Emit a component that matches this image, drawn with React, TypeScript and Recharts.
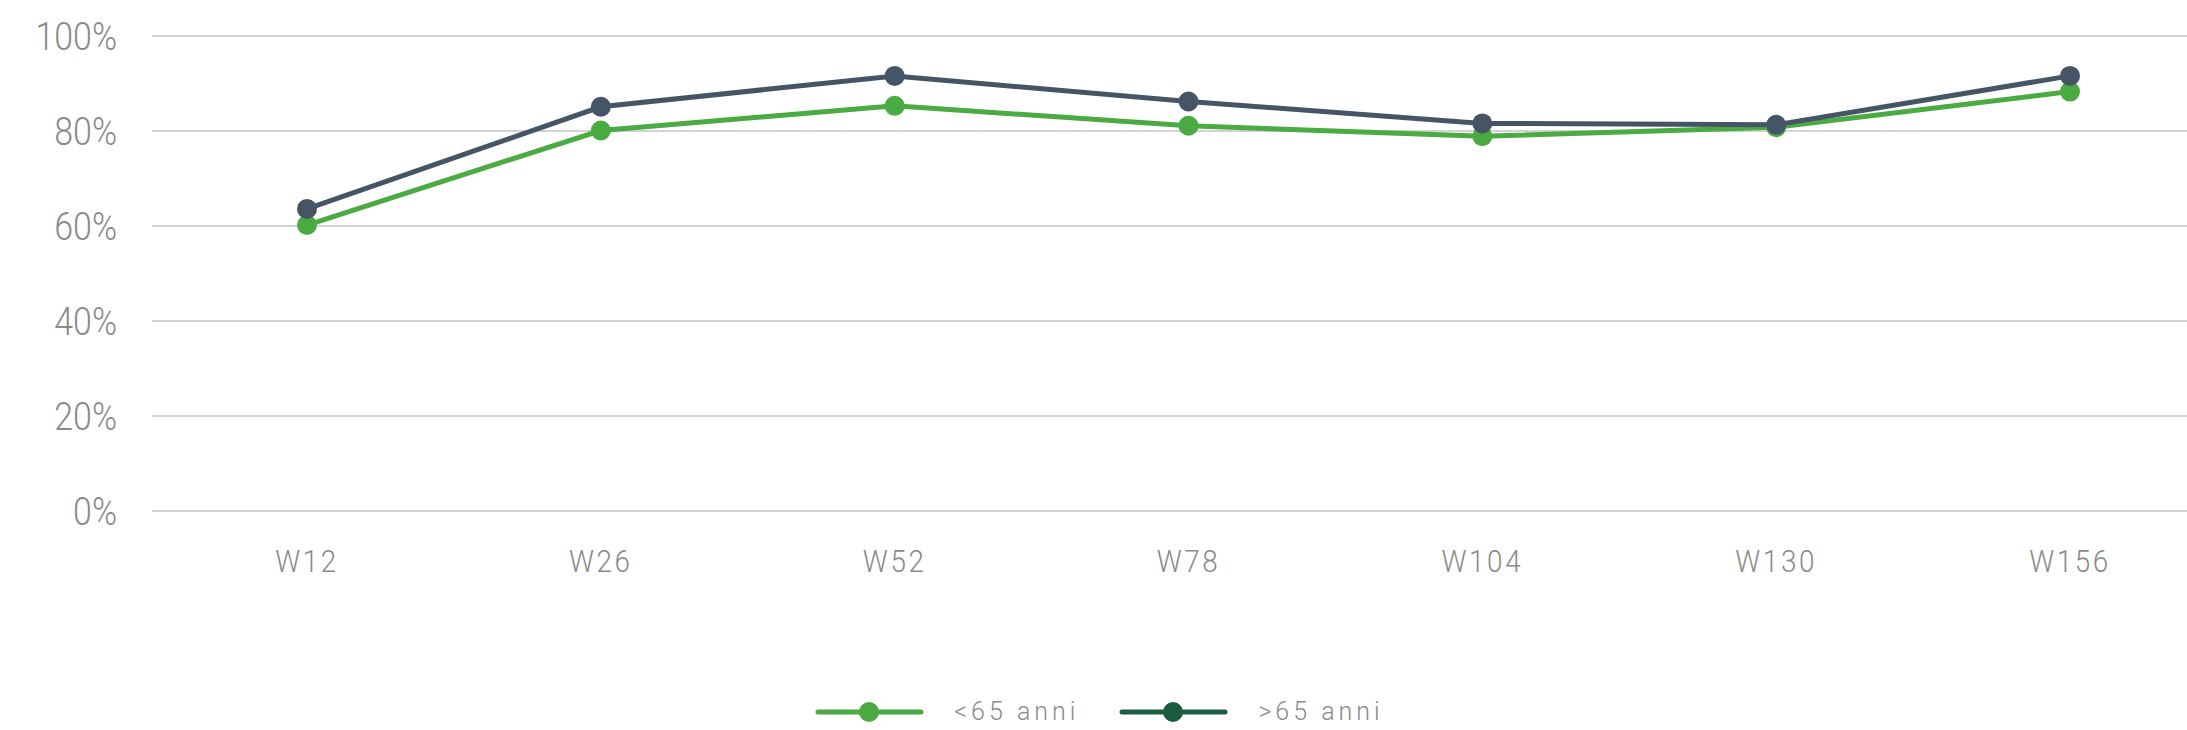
import { LineChart, Line, XAxis, YAxis, CartesianGrid, Legend } from 'recharts';

const weeks = ['W12', 'W26', 'W52', 'W78', 'W104', 'W130', 'W156'];
const under65 = [60.2, 80.1, 85.3, 81.1, 78.9, 80.8, 88.3];
const over65 = [63.6, 85.1, 91.6, 86.2, 81.6, 81.3, 91.6];
const yTicks = [0, 20, 40, 60, 80, 100];

const series = [
  { key: 'under65', name: '<65 anni', color: '#4aab42', legendColor: '#4aab42' },
  { key: 'over65', name: '>65 anni', color: '#465566', legendColor: '#1c5c3e' },
];

const data = weeks.map((w, i) => ({ week: w, under65: under65[i], over65: over65[i] }));

const FONT = "Roboto, 'Liberation Sans', sans-serif";
const TEXT = '#8a8a8a';
const SQUEEZE = 0.87;

// narrow light text, the original uses a condensed face
function YTick({ x, y, payload }: any) {
  return (
    <text
      transform={`translate(${x},${y}) scale(${SQUEEZE},1)`}
      textAnchor="end"
      dy="0.36em"
      fill={TEXT}
      fontSize={39}
      fontWeight={300}
      fontFamily={FONT}
    >
      {payload.value}%
    </text>
  );
}

function XTick({ x, y, payload }: any) {
  return (
    <text
      transform={`translate(${x},${y}) scale(${SQUEEZE},1)`}
      textAnchor="middle"
      dy="0.71em"
      fill={TEXT}
      fontSize={32}
      fontWeight={300}
      fontFamily={FONT}
      letterSpacing={3}
    >
      {payload.value}
    </text>
  );
}

function LegendContent() {
  return (
    <div style={{ display: 'flex', justifyContent: 'center', alignItems: 'center', fontFamily: FONT, paddingLeft: 12 }}>
      {series.map((s, i) => (
        <div key={s.key} style={{ display: 'flex', alignItems: 'center', marginLeft: i ? 40 : 0 }}>
          <svg width={109} height={24}>
            <line x1={3} y1={12} x2={106} y2={12} stroke={s.legendColor} strokeWidth={5} strokeLinecap="round" />
            <circle cx={54} cy={12} r={10} fill={s.legendColor} />
          </svg>
          <span style={{ marginLeft: 30, fontSize: 25, fontWeight: 300, letterSpacing: 4, color: TEXT }}>{s.name}</span>
        </div>
      ))}
    </div>
  );
}

export default function App() {
  return (
    <div style={{ width: 2187, height: 730, background: '#fff' }}>
      <style>{`body{margin:0}`}</style>
      <LineChart width={2187} height={730} data={data} margin={{ top: 36, right: 0, left: 0, bottom: 189 }}>
        <CartesianGrid vertical={false} stroke="#c4c4c4" strokeWidth={1.5} />
        <XAxis
          dataKey="week"
          height={30}
          axisLine={false}
          tickLine={false}
          tickSize={0}
          tickMargin={38}
          padding={{ left: 155, right: 117 }}
          tick={<XTick />}
        />
        <YAxis
          width={152}
          domain={[0, 100]}
          ticks={yTicks}
          axisLine={false}
          tickLine={false}
          tickSize={0}
          tickMargin={35}
          tick={<YTick />}
        />
        <Legend
          verticalAlign="middle"
          wrapperStyle={{ top: 697, left: 0, width: 2187 }}
          content={() => <LegendContent />}
        />
        {series.map((s) => (
          <Line
            key={s.key}
            dataKey={s.key}
            name={s.name}
            type="linear"
            stroke={s.color}
            strokeWidth={5}
            dot={{ r: 10, fill: s.color, stroke: 'none' }}
            activeDot={false}
            isAnimationActive={false}
          />
        ))}
      </LineChart>
    </div>
  );
}
